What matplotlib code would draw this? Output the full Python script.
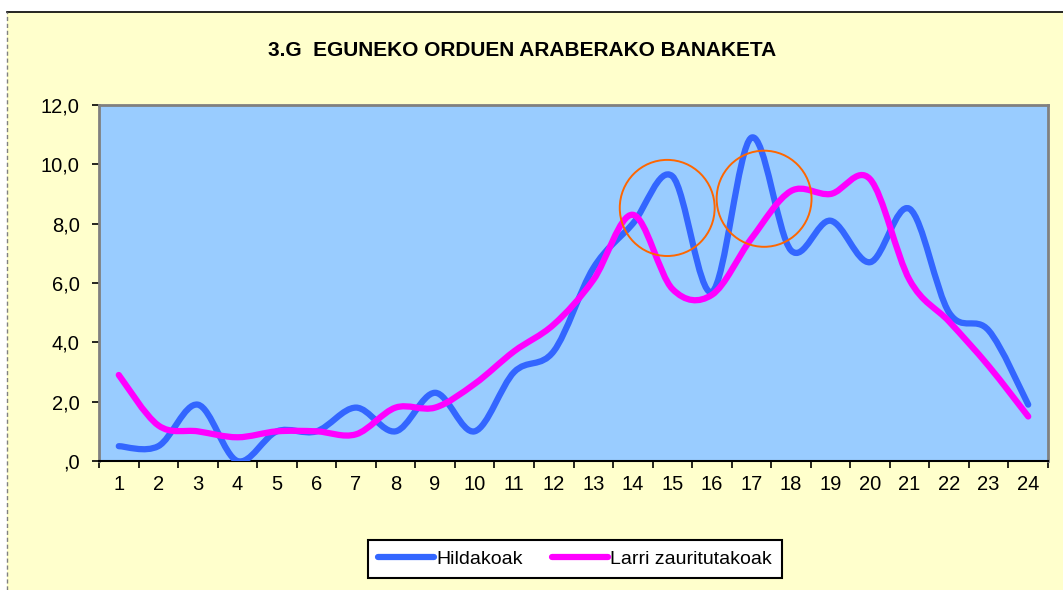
import numpy as np
import matplotlib
matplotlib.use("Agg")
import matplotlib.pyplot as plt
from matplotlib.path import Path
from matplotlib.patches import PathPatch, Ellipse, Rectangle
from matplotlib.lines import Line2D
from matplotlib.ticker import FuncFormatter, FixedLocator

plt.rcParams['font.family'] = ['Liberation Sans', 'DejaVu Sans']

# datuak (orduak 1-24)
orduak = list(range(1, 25))
hildakoak = [0.5, 0.5, 1.9, 0.0, 1.0, 1.0, 1.8, 1.0, 2.3, 1.0, 3.0, 3.7,
             6.5, 8.0, 9.6, 5.7, 10.9, 7.1, 8.1, 6.7, 8.5, 5.0, 4.4, 1.9]
larri = [2.9, 1.2, 1.0, 0.8, 1.0, 1.0, 0.9, 1.8, 1.8, 2.6, 3.7, 4.6,
         6.1, 8.3, 5.8, 5.6, 7.5, 9.1, 9.0, 9.5, 6.1, 4.7, 3.2, 1.5]
serie_izenak = ['Hildakoak', 'Larri zauritutakoak']
izenburua = '3.G  EGUNEKO ORDUEN ARABERAKO BANAKETA'

# zirkuluak (erdigunea x, y)
zirkuluak = [(14.87, 8.53), (17.32, 8.84)]

kolore_urdina = '#3366FF'
kolore_magenta = '#FF00FF'


def smooth_path(xs, ys):
    """Excel-eko 'smoothed line' antzeko bezier bidea"""
    pts = np.column_stack([xs, ys]).astype(float)
    n = len(pts)
    verts = [pts[0]]
    codes = [Path.MOVETO]
    for i in range(n - 1):
        p0 = pts[max(i - 1, 0)]
        p1 = pts[i]
        p2 = pts[i + 1]
        p3 = pts[min(i + 2, n - 1)]
        c1 = p1 + (p2 - p0) / 6.0
        c2 = p2 - (p3 - p1) / 6.0
        verts += [c1, c2, p2]
        codes += [Path.CURVE4] * 3
    return Path(verts, codes)


def y_formatua(v, pos):
    s = ('%.1f' % v).replace('.', ',')
    return ',0' if v == 0 else s


fig = plt.figure(figsize=(10.63, 5.90), dpi=100)
fig.patch.set_facecolor('white')

# atzeko horia
W, H = 1063, 590
fig.add_artist(Rectangle((7 / W, 0), 1, 1 - 12 / H, transform=fig.transFigure,
                         facecolor='#FFFFCC', edgecolor='none', zorder=-10))
fig.add_artist(Line2D([7 / W, 1], [1 - 12 / H, 1 - 12 / H], transform=fig.transFigure,
                      color='black', lw=1.2))
fig.add_artist(Line2D([7 / W, 7 / W], [0, 1 - 12 / H], transform=fig.transFigure,
                      color='#808080', lw=1, linestyle=(0, (3, 2))))

ax = fig.add_axes([99 / W, 1 - 461 / H, (1048 - 99) / W, (461 - 105) / H])
ax.set_facecolor('#99CCFF')

ax.add_patch(PathPatch(smooth_path(orduak, hildakoak), fill=False,
                       edgecolor=kolore_urdina, lw=4.5, capstyle='round',
                       joinstyle='round', zorder=3))
ax.add_patch(PathPatch(smooth_path(orduak, larri), fill=False,
                       edgecolor=kolore_magenta, lw=4.5, capstyle='round',
                       joinstyle='round', zorder=4))

for cx, cy in zirkuluak:
    ax.add_patch(Ellipse((cx, cy), 2.4, 3.24, fill=False, edgecolor='#FF6600',
                         lw=1.4, zorder=5))

ax.set_xlim(0.5, 24.5)
ax.set_ylim(0, 12)

ax.xaxis.set_major_locator(FixedLocator(orduak))
ax.set_xticklabels([str(o) for o in orduak])
ax.xaxis.set_minor_locator(FixedLocator(np.arange(0.5, 25, 1)))
ax.tick_params(axis='x', which='major', length=0, pad=10, labelsize=14.5)
ax.tick_params(axis='x', which='minor', length=5, width=1.2, direction='out', color='black')

ax.set_yticks(np.arange(0, 13, 2))
ax.yaxis.set_major_formatter(FuncFormatter(y_formatua))
ax.tick_params(axis='y', length=5, width=1.2, direction='out', color='black',
               labelsize=14.5, pad=9)

for s in ['top', 'right', 'left']:
    ax.spines[s].set_color('#808080')
    ax.spines[s].set_linewidth(2)
ax.spines['bottom'].set_color('black')
ax.spines['bottom'].set_linewidth(1.5)

fig.text(522 / W, 1 - 50 / H, izenburua, ha='center', va='center',
         fontsize=15, fontweight='bold')

heldulekuak = [Line2D([], [], color=kolore_urdina, lw=4.5, solid_capstyle='round'),
               Line2D([], [], color=kolore_magenta, lw=4.5, solid_capstyle='round')]
leg = fig.legend(heldulekuak, serie_izenak, loc='center', ncol=2,
                 bbox_to_anchor=(575 / W, 1 - 559 / H), fontsize=14, frameon=True,
                 fancybox=False, edgecolor='black', facecolor='white', framealpha=1,
                 handlelength=2.9, handletextpad=0.1, columnspacing=1.5,
                 borderpad=0.5)
leg.get_frame().set_linewidth(1.5)

fig.savefig('out.png', dpi=100, facecolor=fig.get_facecolor())
